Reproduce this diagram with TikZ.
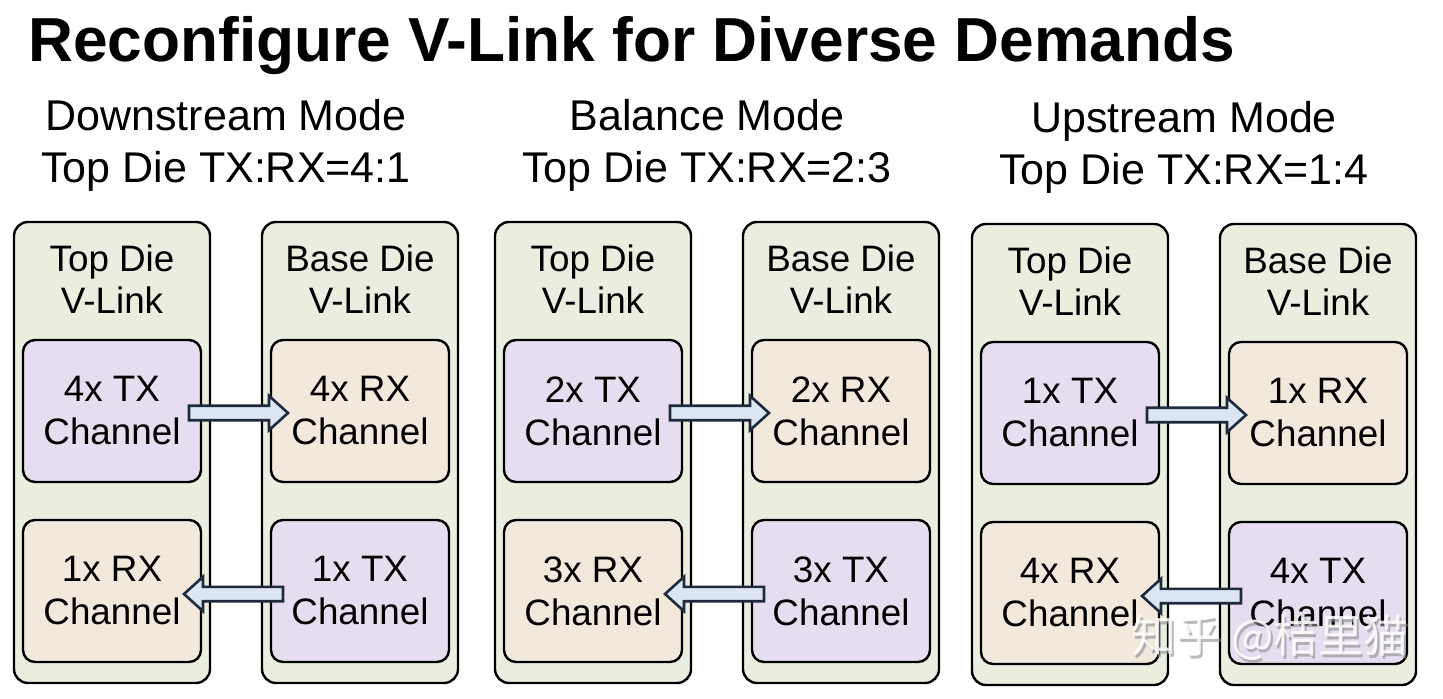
\documentclass[tikz,border=0pt]{standalone}
\usepackage{fontspec}
\setmainfont{Liberation Sans}
\newfontfamily\cjkfont{Noto Sans CJK SC}
\usetikzlibrary{positioning,calc}
\definecolor{dieFill}{HTML}{E9EEDF}
\definecolor{txFill}{HTML}{E7DDF0}
\definecolor{rxFill}{HTML}{F2E8DB}
\definecolor{arrFill}{HTML}{DCE6F2}
\definecolor{arrLine}{HTML}{1E2B3C}

\begin{document}
\begin{tikzpicture}[
x=0.5pt, y=-0.5pt,
    die/.style = {rectangle, draw, rounded corners=7pt,% outer V-Link box
                  line width=1.2pt, fill=dieFill, inner sep=0pt,
                  minimum width=98pt, minimum height=230.5pt,
                  outer sep=0pt, anchor=north west},
    dielab/.style = {align=center, inner sep=0pt,
                  font=\fontsize{18.4}{21}\selectfont},
    chan/.style = {rectangle, draw, rounded corners=6pt,% channel boxes
                  line width=1.2pt, inner sep=0pt, align=center,
                  minimum width=89pt, minimum height=71pt, outer sep=0pt,
                  font=\fontsize{18.4}{21.5}\selectfont},
    tx/.style   = {chan, fill=txFill},
    rx/.style   = {chan, fill=rxFill},
    modelab/.style = {align=center, inner sep=0pt,
                  font=\fontsize{21.5}{26}\selectfont},
    blockarr/.style = {draw=arrLine, fill=arrFill, line width=1.3pt,
                  to path={
    ($(\tikztostart)!-6pt!(\tikztotarget)$) coordinate (arrS)
    ($(\tikztotarget)!-8.5pt!(\tikztostart)$) coordinate (arrT)
    ($(arrT)!9.5pt!(arrS)$) coordinate (arrH)
    ($(arrS)!3.6pt!90:(arrT)$) -- ($(arrH)!3.6pt!90:(arrT)$)
      -- ($(arrH)!8.6pt!90:(arrT)$) -- (arrT)
      -- ($(arrH)!8.6pt!-90:(arrT)$) -- ($(arrH)!3.6pt!-90:(arrT)$)
      -- ($(arrS)!3.6pt!-90:(arrT)$) -- cycle}},
                        ]
\useasboundingbox (0,0) rectangle (1443,699);
\node[anchor=base west, inner sep=0pt, font=\bfseries\fontsize{31.1}{36}\selectfont]
    (title) at (28,62) {Reconfigure V-Link for Diverse Demands};
\foreach \i/\x/\y/\n/\m/\mode in {1/14/222/4/1/Downstream,
                                  2/495/222/2/3/Balance,
                                  3/972/224/1/4/Upstream}{% <-- one mode per group
  \node[die] (top\i) at (\x,\y) {};
  \node[dielab] (topLab\i) at ($(top\i.north)+(0,57)$) {Top Die\\V-Link};
  \node[tx, below=59pt of top\i.north] (topTX\i) {\n x TX\\Channel};
  \node[rx, below=19pt of topTX\i] (topRX\i) {\m x RX\\Channel};
  \node[die, right=26pt of top\i] (base\i) {};
  \node[dielab] (baseLab\i) at ($(base\i.north)+(0,57)$) {Base Die\\V-Link};
  \node[rx, below=59pt of base\i.north] (baseRX\i) {\n x RX\\Channel};
  \node[tx, below=19pt of baseRX\i] (baseTX\i) {\m x TX\\Channel};
  \node[modelab] (mode\i) at ($(top\i.north east)!0.5!(base\i.north west)+(-10,-77)$)
      {\mode\ Mode\\Top Die TX:RX=\n:\m};
  \draw[blockarr, transform canvas={yshift=-1pt}] (topTX\i.east) to (baseRX\i.west);
  \draw[blockarr, transform canvas={yshift=-1.5pt}] (baseTX\i.west) to (topRX\i.east);
}
% watermark
\node[font=\cjkfont\fontsize{22.5}{26}\selectfont, text=black!45, opacity=0.6]
    (wmShade) at (1272,640) {知乎 @桔里猫};
\node[font=\cjkfont\fontsize{22.5}{26}\selectfont, text=white, opacity=0.85]
    (wm) at (1270,637) {知乎 @桔里猫};
\end{tikzpicture}
\end{document}
